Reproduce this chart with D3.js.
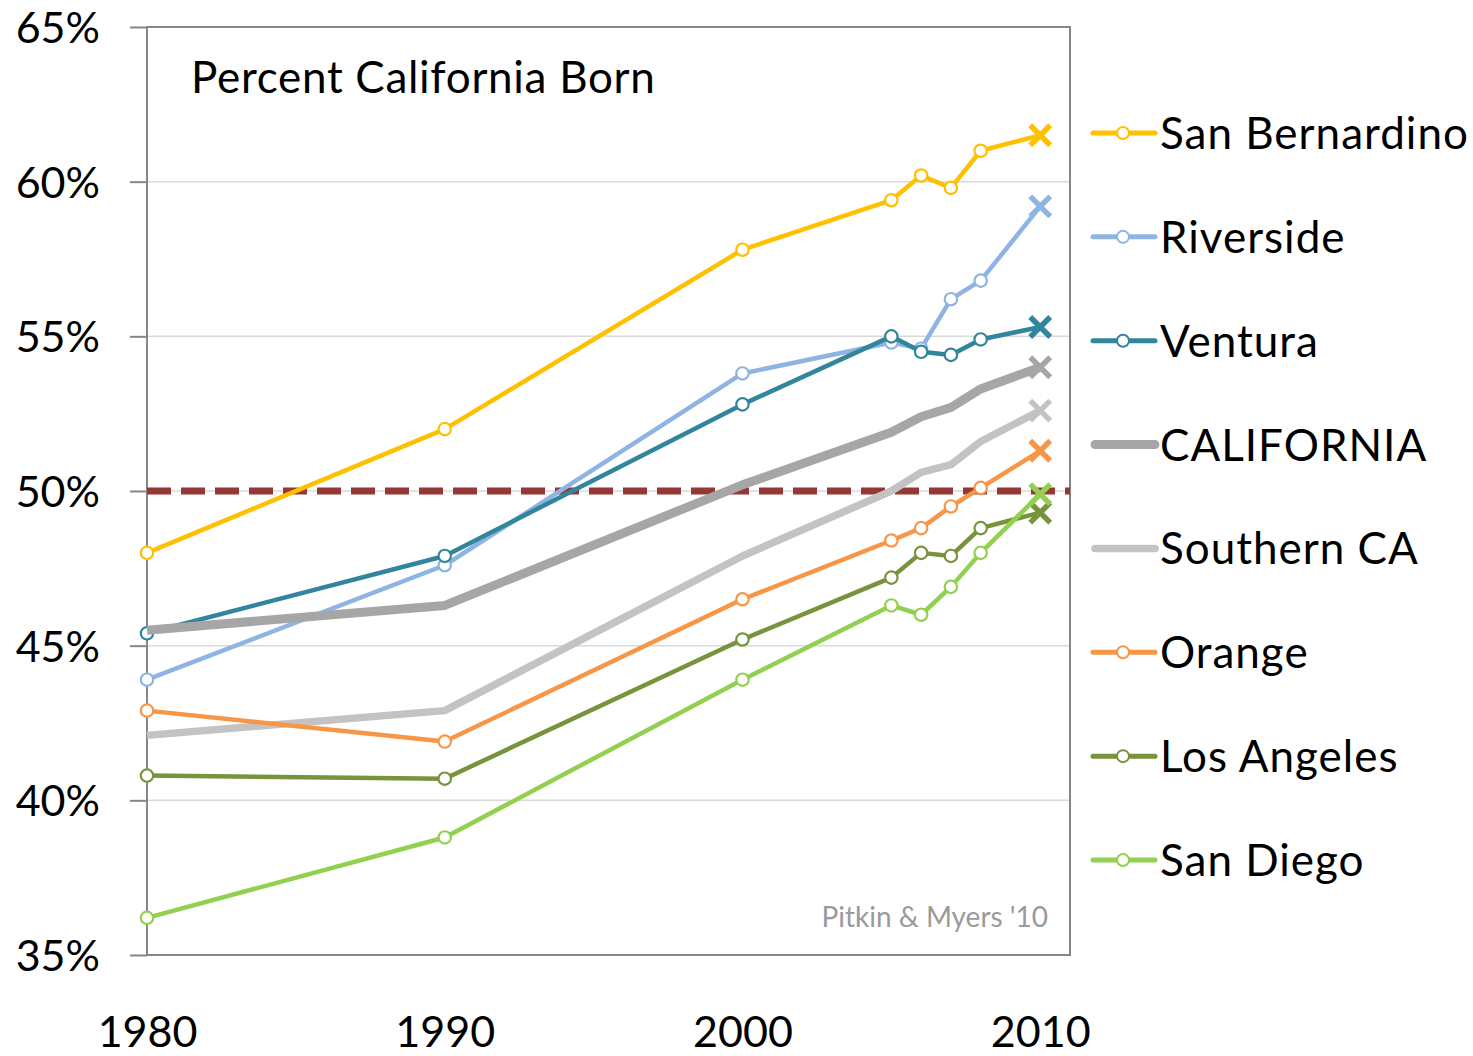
<!DOCTYPE html>
<html><head><meta charset="utf-8">
<script src="https://cdn.jsdelivr.net/npm/d3@7"></script>
<style>html,body{margin:0;padding:0;background:#fff;} svg{display:block;}</style>
</head><body>
<svg id="chart" width="1473" height="1056"></svg>
<script>
const years = [1980, 1990, 2000, 2005, 2006, 2007, 2008, 2010];
const seriesNames = ["San Bernardino", "Riverside", "Ventura", "CALIFORNIA", "Southern CA", "Orange", "Los Angeles", "San Diego"];
const sanBernardino = [48.0, 52.0, 57.8, 59.4, 60.2, 59.8, 61.0, 61.5];
const riverside     = [43.9, 47.6, 53.8, 54.8, 54.6, 56.2, 56.8, 59.2];
const ventura       = [45.4, 47.9, 52.8, 55.0, 54.5, 54.4, 54.9, 55.3];
const california    = [45.5, 46.3, 50.2, 51.9, 52.4, 52.7, 53.3, 54.0];
const southernCA    = [42.1, 42.9, 47.9, 50.0, 50.6, 50.85, 51.6, 52.6];
const orange        = [42.9, 41.9, 46.5, 48.4, 48.8, 49.5, 50.1, 51.3];
const losAngeles    = [40.8, 40.7, 45.2, 47.2, 48.0, 47.9, 48.8, 49.3];
const sanDiego      = [36.2, 38.8, 43.9, 46.3, 46.0, 46.9, 48.0, 49.9];
const yTicks = [35, 40, 45, 50, 55, 60, 65];
const xTicks = [1980, 1990, 2000, 2010];
const thresholdValue = 50;
const titleText = "Percent California Born";
const sourceText = "Pitkin & Myers '10";

const seriesValues = [sanBernardino, riverside, ventura, california, southernCA, orange, losAngeles, sanDiego];
const seriesColors = ["#FFC000", "#8EB4E3", "#31859C", "#A6A6A6", "#C3C3C3", "#F79646", "#77933C", "#92D050"];
const seriesWidths = [4.5, 4.5, 4.5, 9, 7.5, 4.5, 4.5, 4.5];
const seriesMarkers = [true, true, true, false, false, true, true, true];

const FONT = "Lato, 'Open Sans', sans-serif";
const svg = d3.select("#chart");
const pL = 147, pR = 1070, pT = 27, pB = 955;
const x = d3.scaleLinear().domain([1980, 2011]).range([pL, pR]);
const y = d3.scaleLinear().domain([35, 65]).range([pB, pT]);

// gridlines
svg.append("g").selectAll("line").data(yTicks.filter(t => t > 35 && t < 65)).join("line")
  .attr("x1", pL).attr("x2", pR).attr("y1", d => y(d)).attr("y2", d => y(d))
  .attr("stroke", "#D9D9D9").attr("stroke-width", 1.5);

// y axis
const yAxis = d3.axisLeft(y).tickValues(yTicks).tickSize(17).tickPadding(0).tickFormat(d => d + "%");
const gy = svg.append("g").attr("transform", `translate(${pL},0)`).call(yAxis);
gy.select(".domain").remove();
gy.selectAll(".tick line").attr("stroke", "#868686").attr("stroke-width", 2);
gy.selectAll(".tick text").attr("x", -47).attr("dy", "0.36em")
  .attr("font-family", FONT).attr("font-size", 43).attr("fill", "#000").attr("text-anchor", "end");

// x axis labels
const xAxis = d3.axisBottom(x).tickValues(xTicks).tickSize(0).tickPadding(0).tickFormat(d3.format("d"));
const gx = svg.append("g").attr("transform", `translate(0,${pB})`).call(xAxis);
gx.select(".domain").remove();
gx.selectAll(".tick text").attr("y", 92).attr("dy", 0)
  .attr("font-family", FONT).attr("font-size", 43).attr("fill", "#000");

// plot border
svg.append("rect").attr("x", pL).attr("y", pT).attr("width", pR - pL).attr("height", pB - pT)
  .attr("fill", "none").attr("stroke", "#868686").attr("stroke-width", 2);

// threshold dashed line
svg.append("line").attr("x1", x(1980)).attr("x2", pR).attr("y1", y(thresholdValue)).attr("y2", y(thresholdValue))
  .attr("stroke", "#953735").attr("stroke-width", 7).attr("stroke-dasharray", "24,10");

// series
const line = d3.line().x((d, i) => x(years[i])).y(d => y(d));
seriesValues.forEach((vals, si) => {
  const g = svg.append("g");
  const col = seriesColors[si];
  g.append("path").datum(vals).attr("d", line).attr("fill", "none")
    .attr("stroke", col).attr("stroke-width", seriesWidths[si]).attr("stroke-linejoin", "round");
  if (seriesMarkers[si]) {
    g.selectAll("circle").data(vals.slice(0, -1)).join("circle")
      .attr("cx", (d, i) => x(years[i])).attr("cy", d => y(d)).attr("r", 6.2)
      .attr("fill", "#fff").attr("stroke", col).attr("stroke-width", 2.2);
  }
  const last = vals.length - 1;
  g.append("path").attr("d", "M-10,-10L10,10M10,-10L-10,10")
    .attr("transform", `translate(${x(years[last])},${y(vals[last])})`)
    .attr("stroke", col).attr("stroke-width", 5.5).attr("fill", "none");
});

// title & source
svg.append("text").attr("x", 191).attr("y", 93).text(titleText)
  .attr("font-family", FONT).attr("font-size", 44).attr("letter-spacing", 0.7).attr("fill", "#000");
svg.append("text").attr("x", 1048).attr("y", 927).attr("text-anchor", "end").text(sourceText)
  .attr("font-family", FONT).attr("font-size", 28).attr("fill", "#9A9A9A");

// legend
const legY = d3.scalePoint().domain(seriesNames).range([133, 860]);
const leg = svg.append("g");
seriesNames.forEach((name, si) => {
  const cy = legY(name);
  const col = seriesColors[si];
  if (seriesMarkers[si]) {
    leg.append("line").attr("x1", 1093).attr("x2", 1155).attr("y1", cy).attr("y2", cy)
      .attr("stroke", col).attr("stroke-width", 5).attr("stroke-linecap", "round");
    leg.append("circle").attr("cx", 1123).attr("cy", cy).attr("r", 6)
      .attr("fill", "#fff").attr("stroke", col).attr("stroke-width", 2);
  } else {
    leg.append("line").attr("x1", 1095).attr("x2", 1155).attr("y1", cy).attr("y2", cy)
      .attr("stroke", col).attr("stroke-width", seriesWidths[si]).attr("stroke-linecap", "round");
  }
  leg.append("text").attr("x", 1160).attr("y", cy + 16).text(name)
    .attr("font-family", FONT).attr("font-size", 44).attr("letter-spacing", 1).attr("fill", "#000");
});
</script>
</body></html>
